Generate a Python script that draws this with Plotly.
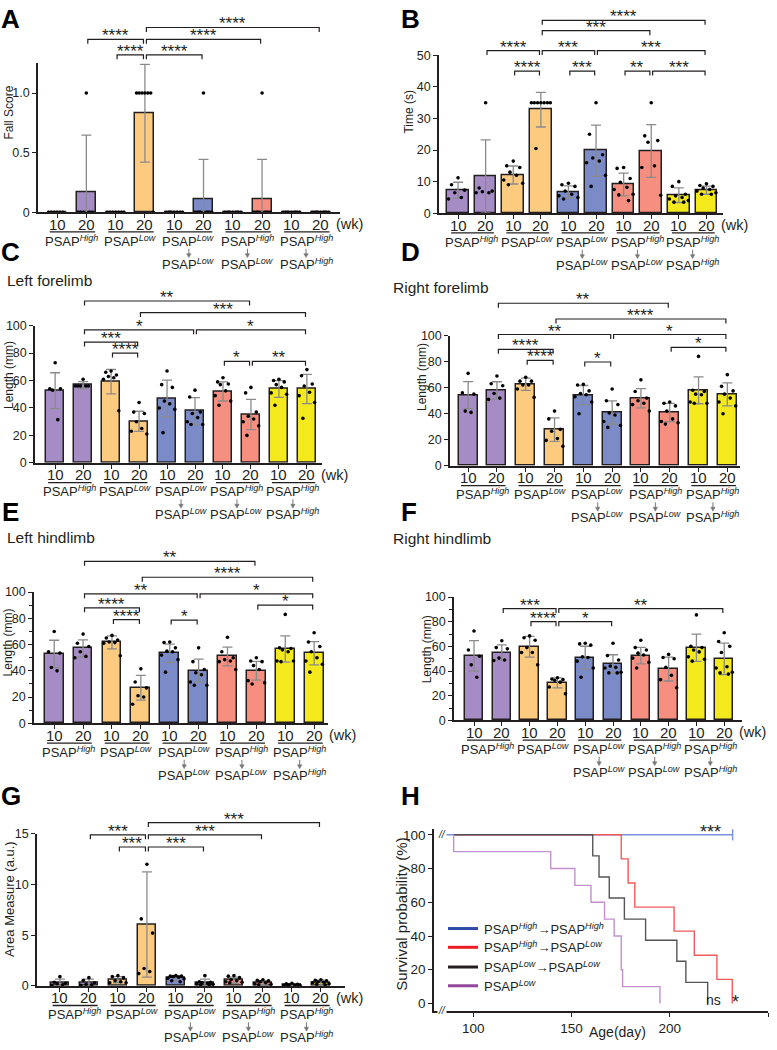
import plotly.graph_objects as go

FIG_W, FIG_H = 777, 1050
FONT = "Liberation Sans, Arial, sans-serif"
INK = "#231f20"

# ---------------- shared categories ----------------
bar_colors = ["#A68CC4", "#A68CC4", "#FDCB80", "#FDCB80", "#7B8BC7",
              "#7B8BC7", "#F68F80", "#F68F80", "#F3E91C", "#F3E91C"]
week_labels = ["10", "20", "10", "20", "10", "20", "10", "20", "10", "20"]
group_top = ["PSAP<sup><i>High</i></sup>", "PSAP<sup><i>Low</i></sup>", "PSAP<sup><i>Low</i></sup>",
             "PSAP<sup><i>High</i></sup>", "PSAP<sup><i>High</i></sup>"]
group_bottom = [None, None, "PSAP<sup><i>Low</i></sup>", "PSAP<sup><i>Low</i></sup>",
                "PSAP<sup><i>High</i></sup>"]

# ---------------- A: Fall score ----------------
A_mean = [0, 0.167, 0, 0.83, 0, 0.111, 0, 0.111, 0, 0]
A_sd = [0, 0.48, 0, 0.41, 0, 0.333, 0, 0.333, 0, 0]
A_pts = [[0, 0, 0, 0, 0, 0], [1, 0, 0, 0, 0, 0], [0, 0, 0, 0, 0, 0, 0], [1, 1, 1, 1, 1, 1, 0],
         [0, 0, 0, 0, 0, 0, 0, 0], [1, 0, 0, 0, 0, 0, 0, 0, 0], [0, 0, 0, 0, 0, 0, 0, 0, 0],
         [1, 0, 0, 0, 0, 0, 0, 0, 0], [0, 0, 0, 0, 0, 0, 0, 0, 0], [0, 0, 0, 0, 0, 0, 0, 0, 0]]
A_br = [(1, 3, 1.45, "****"), (2, 3, 1.32, "****"), (3, 5, 1.32, "****"),
        (3, 7, 1.45, "****"), (3, 9, 1.55, "****")]

# ---------------- B: Time ----------------
B_mean = [7.3, 11.6, 12.1, 32.8, 6.7, 19.8, 9.1, 19.7, 5.7, 7.3]
B_sd = [2.5, 11.6, 2.85, 5.5, 1.95, 8.1, 3.6, 8.35, 2.3, 1.3]
B_pts = [[11.2, 9, 7.3, 6.5, 5, 4.5], [35, 8, 7, 6.8, 6.5, 6.5],
         [16.5, 15, 14.5, 13, 12, 10.5, 9.5, 9], [35, 35, 35, 35, 35, 35, 35, 20.5],
         [9.5, 9, 8.5, 7, 6, 5.5, 5, 4.5], [35, 25, 18.5, 17.5, 16.5, 16, 12, 8.5],
         [14.5, 14.2, 11, 9.8, 8.2, 7.5, 6, 5.8, 4], [35, 24.5, 23, 22.5, 15, 14.5, 5.7],
         [10, 8.5, 6, 5.5, 5, 4.5, 4, 3.5, 3.5], [9.3, 8.8, 8.5, 8, 7.5, 7, 6.5, 6, 6]]
B_br = [(1, 3, 51.5, "****"), (2, 3, 45, "****"), (3, 5, 51.5, "***"), (4, 5, 45, "***"),
        (5, 9, 51.5, "***"), (6, 7, 45, "**"), (7, 9, 45, "***"), (3, 7, 57.8, "***"),
        (3, 9, 61.1, "****")]

# ---------------- C: Left forelimb ----------------
C_mean = [52.6, 56.7, 59.2, 30.3, 47.0, 37.8, 52.1, 35.2, 53.8, 53.8]
C_sd = [13.1, 2.5, 8.85, 7.3, 13.3, 9.7, 7.0, 11.0, 6.1, 10.65]
C_pts = [[73, 54, 54, 53, 31.5], [61, 56, 56, 56, 56, 56], [67, 66, 64, 63, 62, 61, 38],
         [44, 37, 36, 30, 25, 23, 21], [67, 57, 55, 45, 43, 40, 39, 22],
         [53, 48, 37, 36, 33, 30, 28, 28], [62, 59, 57.5, 57, 52.5, 49, 45, 42],
         [55, 51, 37, 34, 32, 30, 27, 20], [61, 60, 59, 57, 55, 51, 50, 42],
         [68, 63.5, 57.5, 56, 51.5, 49, 44, 32.5]]
C_br = [(1, 7, 118, "**"), (3, 9, 109.6, "***"), (1, 5, 97, "*"), (5, 9, 97, "*"),
        (1, 3, 88, "***"), (2, 3, 80, "****"), (6, 7, 74, "*"), (7, 9, 74, "**")]

# ---------------- D: Right forelimb ----------------
D_mean = [54.3, 58.0, 62.6, 27.8, 54.3, 40.9, 51.8, 40.9, 58.0, 54.8]
D_sd = [10.35, 6.55, 4.7, 9.0, 7.35, 9.0, 7.4, 7.0, 10.35, 8.8]
D_pts = [[71, 56, 55, 42, 41], [69, 63, 61.5, 55.5, 52, 51], [68, 65, 65, 62, 62, 59, 52.5],
         [42, 36, 28, 26.5, 21, 19.5, 15], [62.5, 62, 57.5, 55.5, 54.5, 53, 49, 40],
         [59, 50, 47, 40.5, 39, 34, 31, 29.5], [66, 57, 52, 50, 48, 47, 42],
         [49, 48, 46, 42, 36, 34, 33, 32], [84, 58, 57, 55, 54.5, 49, 48, 48],
         [70, 61, 57.5, 55, 52, 49, 46, 40]]
D_br = [(1, 7, 124.8, "**"), (3, 9, 112.7, "****"), (1, 5, 100.8, "**"), (5, 9, 100.8, "*"),
        (1, 3, 89.4, "****"), (2, 3, 81, "****"), (4, 5, 79.7, "*"), (7, 9, 91, "*")]

# ---------------- E: Left hindlimb ----------------
E_mean = [52.9, 57.1, 61.7, 27.1, 53.4, 40.1, 50.9, 40.1, 56.6, 53.4]
E_sd = [10.4, 6.5, 5.0, 9.4, 6.9, 8.75, 7.15, 7.15, 10.0, 8.8]
E_pts = [[70, 54.5, 53.5, 42.5, 40], [68, 61, 58.5, 54.5, 51, 50],
         [67, 65, 63.5, 62, 61.5, 61, 51.5], [41.5, 31.5, 27, 21, 20, 14.5],
         [62, 61.5, 57.5, 55, 54.5, 52, 48.5, 39], [57.5, 47, 41, 38.5, 37, 31.5, 29, 29],
         [65.5, 54.5, 50, 48.5, 47.5, 47, 41], [50, 47.5, 47, 44, 41, 32.5, 31, 30],
         [83, 57.5, 57, 56, 54.5, 47.5, 47.5, 47], [69, 62, 58.5, 54.5, 50, 47.5, 45, 39]]
E_br = [(1, 7, 123.4, "**"), (3, 9, 111.3, "****"), (1, 5, 98.7, "**"), (5, 9, 98.7, "*"),
        (1, 3, 88, "****"), (2, 3, 79, "****"), (4, 5, 78.6, "*"), (7, 9, 90, "*")]

# ---------------- F: Right hindlimb ----------------
F_mean = [52.3, 54.9, 59.7, 30.4, 50.9, 45.9, 52.5, 41.6, 58.9, 49.9]
F_sd = [12.4, 6.25, 8.4, 4.0, 9.2, 7.3, 6.65, 9.7, 11.1, 12.8]
F_pts = [[72.5, 57, 52, 45, 35], [64.5, 59, 58, 50.5, 49, 48.5], [68.5, 67, 65, 59, 55, 55, 45],
         [34.5, 33.5, 33, 32.5, 31, 27, 21.5], [62.5, 62, 61, 51.5, 51, 48, 42.5, 35],
         [62.5, 52.5, 49, 44, 43, 42.5, 39, 38.5, 38.5], [65, 59, 57, 54.5, 53, 50.5, 47, 42.5],
         [53.5, 51, 50, 43, 36.5, 33, 26.5], [85.5, 60, 59, 57, 55.5, 51.5, 49.5, 48],
         [71, 64, 60, 55, 43.5, 42.5, 39, 38.5, 37.5]]
F_br = [(1, 3, 90.6, "***"), (3, 9, 90.6, "**"), (2, 3, 80, "****"), (3, 5, 80, "*")]

# ---------------- G: Area measure ----------------
G_mean = [0.33, 0.3, 0.6, 6.05, 0.75, 0.3, 0.55, 0.3, 0.1, 0.3]
G_sd = [0.32, 0.35, 0.3, 5.2, 0.25, 0.35, 0.3, 0.2, 0.1, 0.25]
G_pts = [[0.9, 0.35, 0.25, 0.2, 0.1, 0.05], [0.8, 0.55, 0.3, 0.15, 0.1, 0.05],
         [1.0, 0.9, 0.8, 0.5, 0.4, 0.3, 0.3], [12, 6.6, 5.2, 1.7, 1.4, 1.2],
         [1.0, 0.95, 0.95, 0.9, 0.85, 0.75, 0.7, 0.5, 0.4], [1.0, 0.4, 0.35, 0.3, 0.25, 0.2, 0.15, 0.1, 0.1],
         [1.0, 0.95, 0.8, 0.6, 0.5, 0.4, 0.35, 0.3], [0.6, 0.55, 0.5, 0.4, 0.3, 0.2, 0.15, 0.1],
         [0.25, 0.2, 0.15, 0.1, 0.08, 0.05, 0.05, 0.03], [0.6, 0.55, 0.5, 0.4, 0.35, 0.3, 0.2, 0.15, 0.1]]
G_br = [(1, 3, 14.9, "***"), (2, 3, 13.7, "***"), (3, 5, 13.7, "***"),
        (3, 7, 14.9, "***"), (3, 9, 16.1, "***")]

# ---------------- H: Survival ----------------
surv_names = ["PSAP<sup><i>High</i></sup>→PSAP<sup><i>High</i></sup>",
              "PSAP<sup><i>High</i></sup>→PSAP<sup><i>Low</i></sup>",
              "PSAP<sup><i>Low</i></sup>→PSAP<sup><i>Low</i></sup>",
              "PSAP<sup><i>Low</i></sup>"]
surv_days = [[86, 232],
             [90, 175.3, 178.8, 182.2, 202.2, 212.5, 224, 231.8],
             [90, 160.8, 164, 169.2, 176.9, 187.7, 203.6, 208.2, 219.3],
             [90, 90, 139.4, 151.7, 159.9, 166.8, 171.7, 175.3, 176.0, 195.0]]
surv_pct = [[100, 100],
            [100, 85.7, 71.4, 57.1, 42.9, 28.6, 14.3, 0],
            [100, 87.5, 75, 62.5, 50, 37.5, 25, 12.5, 0],
            [100, 90, 80, 70, 60, 50, 40, 20, 10, 0]]
surv_line_colors = ["#7b90de", "#f15a5a", "#555555", "#c48fcf"]
surv_legend_colors = ["#2E4BA8", "#ED1C24", "#231F20", "#92479B"]

# ---------------- layout helpers ----------------
def pxx(px):
    return px / FIG_W

def pxy(py):
    return 1 - py / FIG_H

panels = [
    dict(letter="A", px=(38, 340), py=(57, 208), xr=(-0.65, 9.66), yr=(0, 1.25), bw=0.65,
         tv=[0, 0.5, 1.0], tt=["0", "0.5", "1.0"], mean=A_mean, sd=A_sd, pts=A_pts, br=A_br,
         yt="Fall Score", ytp=(9, 107), yts=12, minor=False),
    dict(letter="B", px=(439, 723), py=(49, 209), xr=(-0.69, 9.6), yr=(0, 50), bw=0.78,
         tv=[0, 10, 20, 30, 40, 50], tt=None, mean=B_mean, sd=B_sd, pts=B_pts, br=B_br,
         yt="Time (s)", ytp=(409, 106), yts=12, minor=False),
    dict(letter="C", px=(35, 322), py=(323, 462), xr=(-0.72, 9.54), yr=(0, 100), bw=0.63,
         tv=[0, 20, 40, 60, 80, 100], tt=None, mean=C_mean, sd=C_sd, pts=C_pts, br=C_br,
         yt="Length (mm)", ytp=(9, 373), yts=12, minor=False),
    dict(letter="D", px=(450, 740), py=(333, 465), xr=(-0.63, 9.44), yr=(0, 100), bw=0.66,
         tv=[0, 20, 40, 60, 80, 100], tt=None, mean=D_mean, sd=D_sd, pts=D_pts, br=D_br,
         yt="Length (mm)", ytp=(422, 375), yts=12, minor=False),
    dict(letter="E", px=(34, 328), py=(593, 726), xr=(-0.7, 9.48), yr=(0, 100), bw=0.65,
         tv=[0, 20, 40, 60, 80, 100], tt=None, mean=E_mean, sd=E_sd, pts=E_pts, br=E_br,
         yt="Length (mm)", ytp=(8, 644), yts=12, minor=True),
    dict(letter="F", px=(454, 742), py=(598, 723), xr=(-0.72, 9.64), yr=(0, 100), bw=0.66,
         tv=[0, 20, 40, 60, 80, 100], tt=None, mean=F_mean, sd=F_sd, pts=F_pts, br=F_br,
         yt="Length (mm)", ytp=(427, 651), yts=12, minor=True),
    dict(letter="G", px=(37, 345), py=(838, 992), xr=(-0.79, 9.83), yr=(0, 15), bw=0.64,
         tv=[0, 5, 10, 15], tt=None, mean=G_mean, sd=G_sd, pts=G_pts, br=G_br,
         yt="Area Measure (a.u.)", ytp=(10, 904), yts=13, minor=False),
]

letters_pos = {"A": (10, 12), "B": (410, 12), "C": (10, 248), "D": (410, 248),
               "E": (10, 512), "F": (409, 512), "G": (11, 800), "H": (410, 800)}
subtitles = [("Left forelimb", 5, 277), ("Right forelimb", 391, 284),
             ("Left hindlimb", 5, 538), ("Right hindlimb", 391, 539)]

JIT = [0.0, -0.2, 0.2, -0.1, 0.1, -0.29, 0.29, -0.15, 0.15, 0.05, -0.05]


def note(x, y, text, size, xref="paper", yref="paper", xa="center", ya="middle", **kw):
    d = dict(x=x, y=y, xref=xref, yref=yref, text=text, showarrow=False, xanchor=xa, yanchor=ya,
             font=dict(size=size, color=kw.pop("color", INK), family=kw.pop("family", FONT)))
    d.update(kw)
    return d


fig = go.Figure()
layout = dict(width=FIG_W, height=FIG_H, margin=dict(l=0, r=0, t=0, b=0),
              paper_bgcolor="white", plot_bgcolor="white", showlegend=False,
              font=dict(family=FONT, color=INK), bargap=0)
shapes, annots = [], []

axis_common = dict(showline=True, linecolor=INK, linewidth=1.5, showgrid=False, zeroline=False,
                   ticks="outside", tickcolor=INK, tickwidth=1.3, ticklen=4,
                   tickfont=dict(family=FONT, size=12.5, color=INK))

for n, p in enumerate(panels, start=1):
    xs = "" if n == 1 else str(n)
    xref, yref = "x" + xs, "y" + xs
    x0, x1 = p["px"]
    ytop, ybot = p["py"]
    r0, r1 = p["xr"]
    y0, y1 = p["yr"]
    dom_h = ybot - ytop
    dom_w = x1 - x0

    layout["xaxis" + xs] = dict(axis_common, domain=[pxx(x0), pxx(x1)], range=list(p["xr"]),
                                anchor=yref, tickvals=list(range(10)), showticklabels=False)
    ya = dict(axis_common, domain=[pxy(ybot), pxy(ytop)], range=list(p["yr"]), anchor=xref,
              tickvals=p["tv"])
    if p["tt"]:
        ya["ticktext"] = p["tt"]
    if p["minor"]:
        ya["minor"] = dict(dtick=10, ticks="outside", ticklen=3, tickcolor=INK, tickwidth=1.2)
    layout["yaxis" + xs] = ya

    cats = list(range(10))
    fig.add_trace(go.Bar(x=cats, y=p["mean"], width=p["bw"], xaxis=xref, yaxis=yref,
                         marker=dict(color=bar_colors, line=dict(color=INK, width=1.5)),
                         error_y=dict(type="data", array=p["sd"], color="#8a8a8a",
                                      thickness=1.3, width=5)))
    dx, dy = [], []
    for i, vals in enumerate(p["pts"]):
        for k, v in enumerate(vals):
            dx.append(i + JIT[k % len(JIT)] * p["bw"] / 0.66)
            dy.append(v)
    fig.add_trace(go.Scatter(x=dx, y=dy, mode="markers", xaxis=xref, yaxis=yref,
                             cliponaxis=False, marker=dict(color="black", size=3.6)))

    def xd(v):
        return (v - r0) / (r1 - r0)

    def yd(v):
        return (v - y0) / (y1 - y0)

    tick = 4.5 / dom_h
    for (i, j, lev, lab) in p["br"]:
        a, b = xd(i + 0.05), xd(j - 0.05)
        yl = yd(lev)
        shapes.append(dict(type="path", xref=xref + " domain", yref=yref + " domain",
                           path=f"M {a},{yl - tick} L {a},{yl} L {b},{yl} L {b},{yl - tick}",
                           line=dict(color=INK, width=1.2)))
        annots.append(note((i + j) / 2, yl, lab, 17, xref=xref, yref=yref + " domain",
                           ya="bottom", yshift=-8))

    # category labels below the axis
    for i in range(10):
        annots.append(note(i, pxy(ybot + 12), week_labels[i], 15, xref=xref))
    annots.append(note(9.45, pxy(ybot + 12), "(wk)", 14.5, xref=xref, xa="left"))
    hw = 2.2 / dom_w
    for g in range(5):
        mid = 2 * g + 0.5
        shapes.append(dict(type="line", xref=xref + " domain", yref="paper",
                           x0=xd(2 * g - 0.25), x1=xd(2 * g + 1.3), y0=pxy(ybot + 20), y1=pxy(ybot + 20),
                           line=dict(color=INK, width=1.3)))
        annots.append(note(mid, pxy(ybot + 29), group_top[g], 13, xref=xref))
        if group_bottom[g]:
            m = xd(mid)
            shapes.append(dict(type="line", xref=xref + " domain", yref="paper",
                               x0=m, x1=m, y0=pxy(ybot + 37), y1=pxy(ybot + 43),
                               line=dict(color="#777777", width=1)))
            shapes.append(dict(type="path", xref=xref + " domain", yref="paper",
                               path=f"M {m - hw},{pxy(ybot + 42)} L {m + hw},{pxy(ybot + 42)} "
                                    f"L {m},{pxy(ybot + 46)} Z",
                               fillcolor="#777777", line=dict(color="#777777", width=0.5)))
            annots.append(note(mid, pxy(ybot + 52), group_bottom[g], 13, xref=xref))

    tx, ty = p["ytp"]
    annots.append(note(pxx(tx), pxy(ty), p["yt"], p["yts"], textangle=-90))

# ---------------- panel H ----------------
hx0, hx1, hyt, hyb = 434, 768, 833, 1018
layout["xaxis8"] = dict(axis_common, domain=[pxx(hx0), pxx(hx1)], range=[80, 250], anchor="y8",
                        tickvals=[100, 150, 200, 250], tickfont=dict(family=FONT, size=13.5, color=INK))
layout["yaxis8"] = dict(axis_common, domain=[pxy(hyb), pxy(hyt)], range=[-4.7, 103.5], anchor="x8",
                        tickvals=[0, 20, 40, 60, 80, 100], tickfont=dict(family=FONT, size=13.5, color=INK))
for k in range(4):
    fig.add_trace(go.Scatter(x=surv_days[k], y=surv_pct[k], mode="lines", line_shape="hv",
                             xaxis="x8", yaxis="y8", cliponaxis=False,
                             line=dict(color=surv_line_colors[k], width=1.4)))
fig.add_trace(go.Scatter(x=[surv_days[0][-1]], y=[surv_pct[0][-1]], mode="markers", xaxis="x8",
                         yaxis="y8", cliponaxis=False,
                         marker=dict(symbol="line-ns", size=8, line=dict(color=surv_line_colors[0], width=1.4))))

leg_rows = [934, 953, 973, 992]
for k in range(4):
    shapes.append(dict(type="line", xref="paper", yref="paper", x0=pxx(448), x1=pxx(478),
                       y0=pxy(leg_rows[k]), y1=pxy(leg_rows[k]),
                       line=dict(color=surv_legend_colors[k], width=3)))
    annots.append(note(pxx(482), pxy(leg_rows[k]), surv_names[k], 13, xa="left"))

annots.append(note(pxx(710), pxy(836), "***", 18))
annots.append(note(pxx(713), pxy(1006), "ns", 14))
annots.append(note(pxx(735), pxy(1008), "*", 18))
for yy in (839, 1017):
    annots.append(note(pxx(442), pxy(yy), "<i>//</i>", 10, bgcolor="white", borderpad=0))
annots.append(note(pxx(402), pxy(920), "Survival probability (%)", 15, textangle=-90))
annots.append(note(pxx(617), pxy(1039), "Age(day)", 14))

# ---------------- letters and subtitles ----------------
for L, (lx, ly) in letters_pos.items():
    annots.append(note(pxx(lx), pxy(ly), f"<b>{L}</b>", 26, color="black",
                       family="Liberation Sans Narrow, Liberation Sans, Arial"))
for (txt, sx, sy) in subtitles:
    annots.append(note(pxx(sx), pxy(sy), txt, 15.5, xa="left"))

layout["shapes"] = shapes
layout["annotations"] = annots
fig.update_layout(**layout)
fig.write_html("out.html", config={"displayModeBar": False},
               post_script="document.body.style.margin='0';document.body.style.padding='0';"
                           "document.documentElement.style.overflow='hidden';")
